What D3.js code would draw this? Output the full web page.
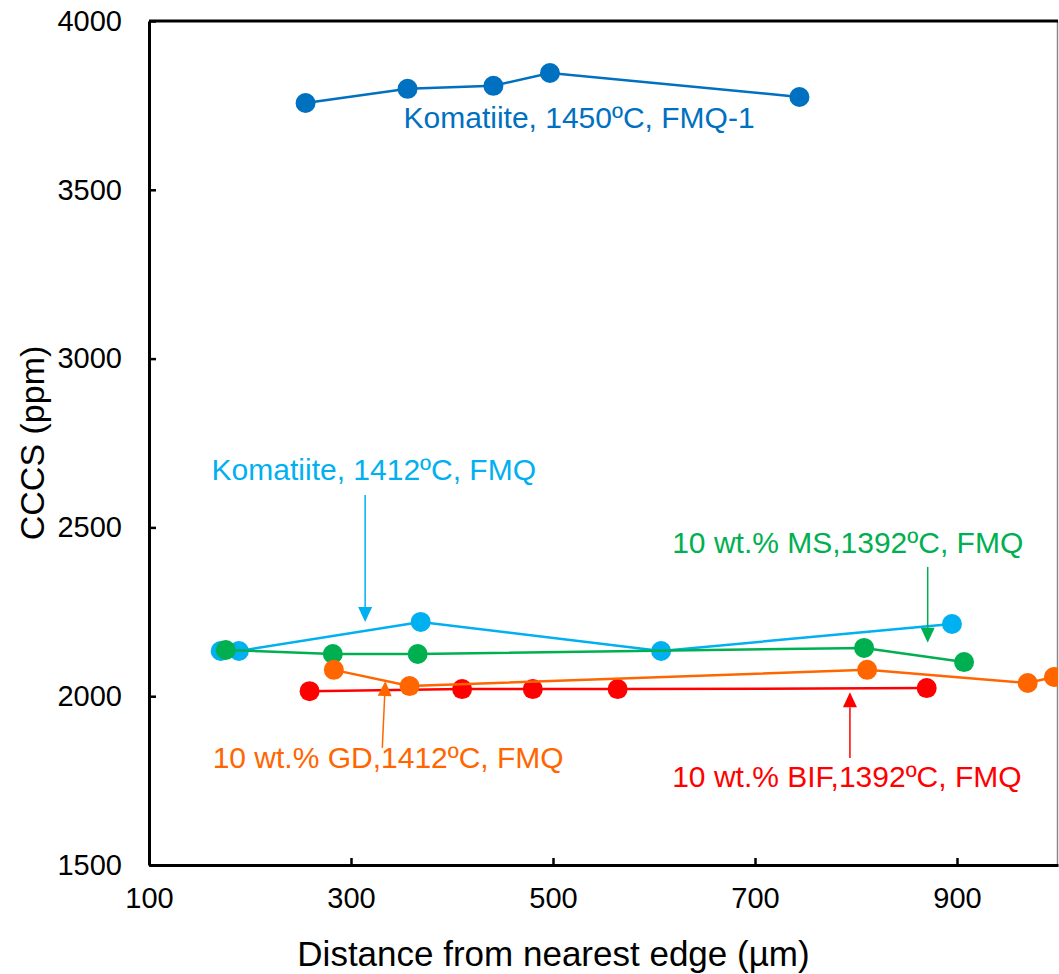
<!DOCTYPE html>
<html>
<head>
<meta charset="utf-8">
<script src="https://cdn.jsdelivr.net/npm/d3@7"></script>
<style>
body { margin: 0; background: #fff; }
text { font-family: "Liberation Sans", Arial, sans-serif; }
</style>
</head>
<body>
<div id="chart"></div>
<script>
'use strict';

// distance from nearest edge (µm) / CCCS (ppm) per experiment
var komatiite1450X = [255, 356, 441, 497, 744];
var komatiite1450Y = [3757, 3799, 3808, 3846, 3775];
var komatiite1412X = [171, 189, 369, 607, 895];
var komatiite1412Y = [2134, 2134, 2220, 2134, 2214];
var msX = [176, 282, 366, 808, 907];
var msY = [2137, 2125, 2125, 2143, 2101];
var bifX = [259, 410, 480, 564, 870];
var bifY = [2015, 2021, 2021, 2021, 2024];
var gdX = [283, 358, 811, 970, 996];
var gdY = [2078, 2030, 2078, 2039, 2057];

var xTicks = [100, 300, 500, 700, 900];
var yTicks = [1500, 2000, 2500, 3000, 3500, 4000];

var labels = ['Komatiite, 1450ºC, FMQ-1', 'Komatiite, 1412ºC, FMQ', '10 wt.% MS,1392ºC, FMQ', '10 wt.% BIF,1392ºC, FMQ', '10 wt.% GD,1412ºC, FMQ'];
var labelX = [352, 162, 618, 618, 163];
var labelY = [3683, 2640, 2424, 1731, 1787];
// arrows: tail -> tip, in data units (null = no arrow)
var arrowFrom = [null, [314, 2596], [871, 2383], [794, 1817], [331, 1847]];
var arrowTo = [null, [314, 2220], [871, 2158], [794, 2012], [334, 2045]];

var colors = ['#0070c0', '#00b0f0', '#00b050', '#ff0000', '#ff6600'];
var seriesX = [komatiite1450X, komatiite1412X, msX, bifX, gdX];
var seriesY = [komatiite1450Y, komatiite1412Y, msY, bifY, gdY];

var W = 1059, H = 974;
var margin = {top: 21, right: 1, bottom: 109, left: 149};
var width = W - margin.left - margin.right;
var height = H - margin.top - margin.bottom;

var svg = d3.select('#chart').append('svg')
	.attr('width', W)
	.attr('height', H)
	.append('g')
		.attr('transform', 'translate(' + margin.left + ',' + margin.top + ')');

var x = d3.scaleLinear().domain([100, 1000]).range([0, width]);
var y = d3.scaleLinear().domain([1500, 4000]).range([height, 0]);

svg.append('clipPath')
	.attr('id', 'plotClip')
	.append('rect')
		.attr('x', -20).attr('y', -20)
		.attr('width', width + 20).attr('height', height + 40);

// right border (thin grey)
svg.append('line')
	.attr('x1', width - 0.5).attr('x2', width - 0.5)
	.attr('y1', 0).attr('y2', height)
	.attr('stroke', '#888').attr('stroke-width', 1.5);

// series
var plot = svg.append('g').attr('clip-path', 'url(#plotClip)');
var line = d3.line()
	.x(function(d){ return x(d[0]); })
	.y(function(d){ return y(d[1]); });

seriesX.forEach(function(xs, i){
	var pts = xs.map(function(v, j){ return [v, seriesY[i][j]]; });
	var g = plot.append('g').attr('class', 'series');
	g.append('path')
		.datum(pts)
		.attr('fill', 'none')
		.attr('stroke', colors[i])
		.attr('stroke-width', 2.5)
		.attr('d', line);
	g.selectAll('circle')
		.data(pts)
		.enter().append('circle')
			.attr('cx', function(d){ return x(d[0]); })
			.attr('cy', function(d){ return y(d[1]); })
			.attr('r', 10)
			.attr('fill', colors[i]);
});

// annotations
labels.forEach(function(t, i){
	svg.append('text')
		.attr('x', x(labelX[i]))
		.attr('y', y(labelY[i]))
		.attr('fill', colors[i])
		.style('font-size', '30px')
		.text(t);

	if (!arrowFrom[i]) return;
	var x1 = x(arrowFrom[i][0]), y1 = y(arrowFrom[i][1]);
	var x2 = x(arrowTo[i][0]), y2 = y(arrowTo[i][1]);
	var ang = Math.atan2(y2 - y1, x2 - x1);
	var headLen = 15, headW = 7;
	var bx = x2 - headLen * Math.cos(ang), by = y2 - headLen * Math.sin(ang);
	svg.append('line')
		.attr('x1', x1).attr('y1', y1)
		.attr('x2', bx).attr('y2', by)
		.attr('stroke', colors[i]).attr('stroke-width', 1.5);
	var px = -Math.sin(ang) * headW, py = Math.cos(ang) * headW;
	svg.append('path')
		.attr('d', d3.line()([[x2, y2], [bx + px, by + py], [bx - px, by - py]]) + 'Z')
		.attr('fill', colors[i]);
});

// axes
var xAxis = svg.append('g')
	.attr('transform', 'translate(0,' + height + ')')
	.call(d3.axisBottom(x).tickValues(xTicks).tickFormat(d3.format('d'))
		.tickSizeInner(-7).tickSizeOuter(0).tickPadding(22));
var yAxis = svg.append('g')
	.call(d3.axisLeft(y).tickValues(yTicks).tickFormat(d3.format('d'))
		.tickSizeInner(-7).tickSizeOuter(0).tickPadding(27));

[xAxis, yAxis].forEach(function(a){
	a.select('.domain').attr('stroke', '#000').attr('stroke-width', 3);
	a.selectAll('.tick line').attr('stroke', '#000').attr('stroke-width', 2.5);
	a.selectAll('.tick text')
		.attr('fill', '#000')
		.style('font-size', '29px')
		.style('font-family', '"Liberation Sans", Arial, sans-serif');
});

// top border
svg.append('line')
	.attr('x1', 0).attr('x2', width)
	.attr('y1', 0).attr('y2', 0)
	.attr('stroke', '#000').attr('stroke-width', 3);

// axis titles
svg.append('text')
	.attr('x', width / 2 - 50)
	.attr('y', height + 101)
	.attr('text-anchor', 'middle')
	.style('font-size', '35px')
	.text('Distance from nearest edge (µm)');

svg.append('text')
	.attr('transform', 'translate(' + (44 - margin.left) + ',' + (height / 2) + ') rotate(-90)')
	.attr('text-anchor', 'middle')
	.style('font-size', '34px')
	.text('CCCS (ppm)');
</script>
</body>
</html>
